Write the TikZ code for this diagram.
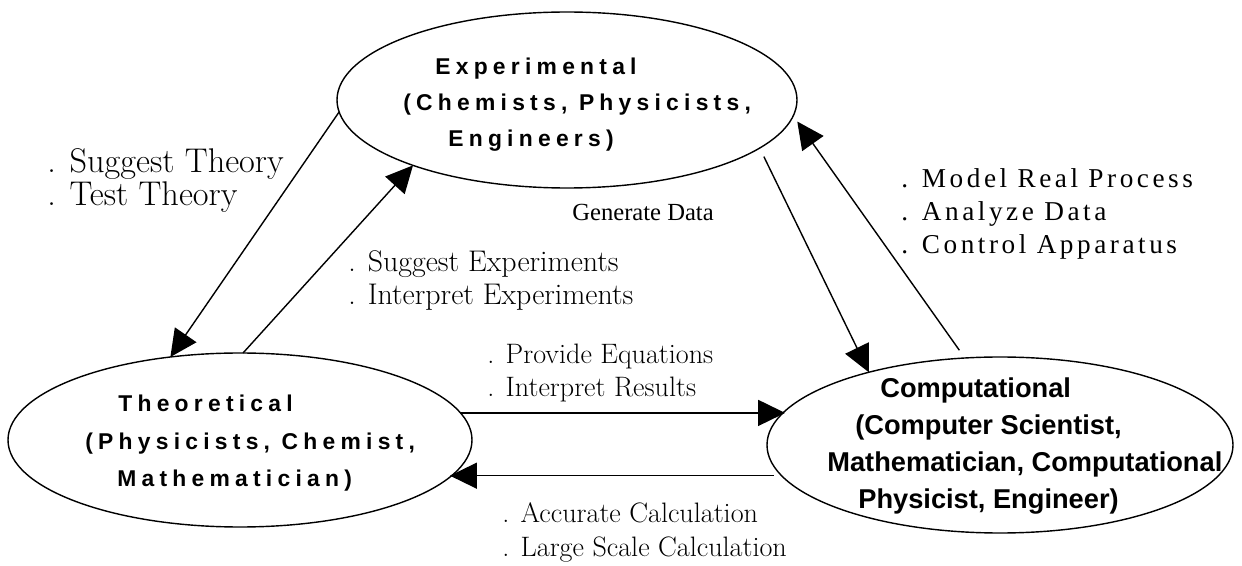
\documentclass[tikz,border=0pt]{standalone}
\usepackage{fontspec}
\usetikzlibrary{shapes.geometric, arrows.meta, positioning, calc}
\newfontfamily\grpfont[LetterSpace=23]{Liberation Sans}
\newfontfamily\grptight{Liberation Sans}
\newfontfamily\taskfont[LetterSpace=13]{Liberation Serif}
\newfontfamily\datafont{Liberation Serif}
\tikzset{
  groupnode/.style={ellipse, draw=black, line width=0.8pt,
                    inner sep=0pt, outer sep=0pt},
  grouptext/.style={anchor=base west, inner sep=0pt, align=left},
  tasktext/.style={anchor=base west, inner sep=0pt, align=left,
                   font=\fontsize{16}{19}\selectfont},
  arrow/.style={-{Triangle[length=0.54cm, width=0.52cm]}, line width=0.8pt}
}

\begin{document}
\begin{tikzpicture}

  \useasboundingbox (0,0) rectangle (24.84,-11.32);

  % The three groups
  \node[groupnode, minimum width=9.2cm, minimum height=3.52cm] (exp) at (11.34,-2.00) {};
  \node[groupnode, minimum width=9.28cm, minimum height=3.48cm] (theo) at (4.80,-8.80) {};
  \node[groupnode, minimum width=9.32cm, minimum height=3.52cm] (comp) at (20.00,-8.90) {};

  % (base anchor = last line)
  \node[grouptext, font=\grpfont\bfseries\fontsize{13}{20.5}\selectfont] (expText) at (8.06,-2.94)
      {\hspace*{0.64cm}Experimental\\(Chemists, Physicists,\\\hspace*{0.9cm}Engineers)};
  \node[grouptext, font=\grpfont\bfseries\fontsize{13}{21.6}\selectfont] (theoText) at (1.70,-9.74)
      {\hspace*{0.66cm}Theoretical\\(Physicists, Chemist,\\\hspace*{0.64cm}Mathematician)};
  \node[grouptext, font=\grptight\bfseries\fontsize{15.5}{21}\selectfont] (compText) at (16.54,-10.16)
      {\hspace*{1.06cm}Computational\\\hspace*{0.56cm}(Computer Scientist,\\Mathematician, Computational\\\hspace*{0.62cm}Physicist, Engineer)};

  % Labels on the links
  \node[tasktext, font=\fontsize{19.5}{19}\selectfont] (theoryLbl) at (0.94,-4.12)
      {. Suggest Theory\\. Test Theory};
  \node[tasktext, font=\fontsize{17}{19}\selectfont] (exptLbl) at (6.96,-6.10)
      {. Suggest Experiments\\. Interpret Experiments};
  \node[anchor=base west, inner sep=0pt, font=\datafont\fontsize{14}{17}\selectfont] (dataLbl)
      at (11.44,-4.42) {Generate Data};
  \node[tasktext, font=\taskfont\fontsize{15.5}{19}\selectfont] (modelLbl) at (18.02,-5.08)
      {. Model Real Process\\. Analyze Data\\. Control Apparatus};
  \node[tasktext] (eqnLbl) at (9.74,-7.94) {. Provide Equations\\. Interpret Results};
  \node[tasktext, font=\fontsize{16}{19.5}\selectfont] (calcLbl) at (10.04,-11.14)
      {. Accurate Calculation\\. Large Scale Calculation};

  % Arrows
  \draw[arrow] (exp.183.7) -- (theo.130.3);
  \draw[arrow] (theo.88.7) -- (exp.203.1);
  \draw[arrow, shorten <=0.19cm] (exp.346) -- (comp.151.6);
  \draw[arrow, shorten <=0.19cm, shorten >=0.14cm] (comp.112.8) -- (exp.356);
  \draw[arrow] (theo.7.2) -- (theo.7.2 -| comp.171.5);
  \draw[arrow, shorten <=0.16cm] (comp.188) -- (comp.188 -| theo.350.2);

\end{tikzpicture}
\end{document}
